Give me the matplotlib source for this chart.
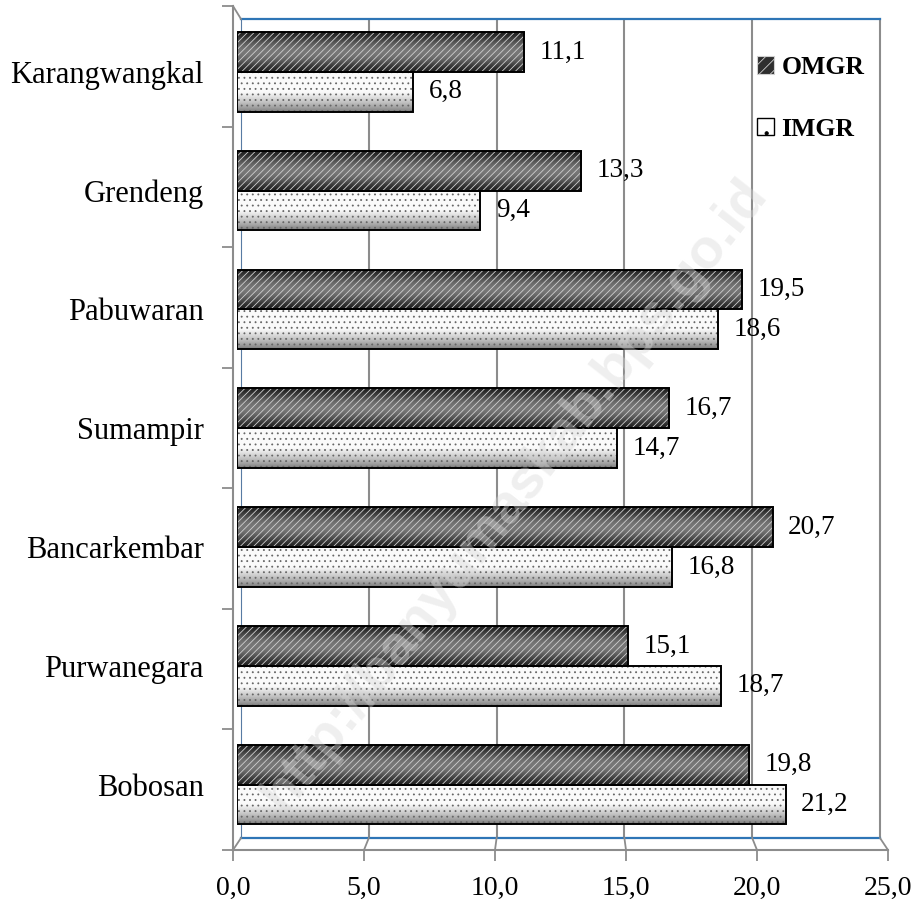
import matplotlib
matplotlib.use('Agg')
import matplotlib.pyplot as plt
from matplotlib.patches import Patch
from matplotlib.lines import Line2D
import numpy as np

# data (bottom -> top)
categories = ['Bobosan', 'Purwanegara', 'Bancarkembar', 'Sumampir',
              'Pabuwaran', 'Grendeng', 'Karangwangkal']
omgr = [19.8, 15.1, 20.7, 16.7, 19.5, 13.3, 11.1]
imgr = [21.2, 18.7, 16.8, 14.7, 18.6, 9.4, 6.8]
xticks = [0, 5, 10, 15, 20, 25]

W, H = 922, 901
plt.rcParams['font.family'] = ['Liberation Serif', 'DejaVu Serif']
plt.rcParams['hatch.linewidth'] = 0.6
GRAY = '#8c8c8c'
BLUE = '#2e75b6'


def px_box(l, t, r, b):
    return [l / W, 1 - b / H, (r - l) / W, (b - t) / H]


fig = plt.figure(figsize=(W / 100, H / 100), dpi=100)

# back wall of the 3d chart
wall = fig.add_axes(px_box(241, 19, 880, 838), zorder=0)
wall.set_xlim(0, 25)
wall.set_ylim(0, 1)
wall.set_xticks(xticks[1:-1])
wall.set_yticks([])
wall.tick_params(length=0, labelbottom=False)
wall.grid(axis='x', color=GRAY, lw=1.5)
wall.spines['top'].set_color(BLUE)
wall.spines['bottom'].set_color(BLUE)
wall.spines['top'].set_linewidth(1.6)
wall.spines['bottom'].set_linewidth(1.6)
wall.spines['left'].set_color('#587ba3')
wall.spines['right'].set_color(GRAY)
wall.spines['right'].set_linewidth(1.5)

# front axes (ticks and axis lines)
front = fig.add_axes(px_box(233, 6, 888, 850), zorder=1)
front.patch.set_alpha(0)
front.set_xlim(0, 25)
front.set_ylim(-0.5, len(categories) - 0.5)
front.set_xticks(xticks)
front.set_xticklabels([f'{v:.1f}'.replace('.', ',') for v in xticks], fontsize=20)
front.set_yticks(np.arange(len(categories) + 1) - 0.5)
front.set_yticklabels([])
front.tick_params(axis='both', length=8, width=1.3, color=GRAY)
front.tick_params(axis='x', pad=11)
for s in ['top', 'right']:
    front.spines[s].set_visible(False)
for s in ['left', 'bottom']:
    front.spines[s].set_color(GRAY)
    front.spines[s].set_linewidth(1.5)

# bars sit between front and back
ax = fig.add_axes(px_box(237, 12.5, 884, 844), zorder=2)
ax.patch.set_alpha(0)
for s in ax.spines.values():
    s.set_visible(False)

y = np.arange(len(categories))
h = 0.335

b_om = ax.barh(y + h / 2, omgr, height=h, color='#333333', lw=0)
b_im = ax.barh(y - h / 2, imgr, height=h, color='#eeeeee', lw=0)

# cylinder-like shading
t = np.linspace(0, 1, 60)
om_grad = 0.13 + 0.34 * np.sin(np.pi * t) ** 1.5
im_grad = np.where(t > 0.5, 0.98, 0.48 + 0.50 * (t / 0.5) ** 0.8)
for bars, grad in [(b_om, om_grad), (b_im, im_grad)]:
    for r in bars:
        x0, y0 = r.get_x(), r.get_y()
        im = ax.imshow(grad[:, None], extent=[x0, x0 + r.get_width(), y0, y0 + r.get_height()],
                       origin='lower', cmap='gray', vmin=0, vmax=1, aspect='auto',
                       interpolation='bilinear', zorder=2)
        im.set_clip_path(r)

ax.barh(y + h / 2, omgr, height=h, color='none', edgecolor='#cfcfcf', hatch='/////', lw=0, zorder=3)
ax.barh(y - h / 2, imgr, height=h, color='none', edgecolor='#666666', hatch='...', lw=0, zorder=3)
ax.barh(y + h / 2, omgr, height=h, fill=False, edgecolor='black', lw=1.4, zorder=4)
ax.barh(y - h / 2, imgr, height=h, fill=False, edgecolor='black', lw=1.4, zorder=4)

for yi, v in zip(y, omgr):
    ax.text(v + 0.6, yi + h / 2, f'{v:.1f}'.replace('.', ','), va='center', fontsize=19.5)
for yi, v in zip(y, imgr):
    ax.text(v + 0.6, yi - h / 2, f'{v:.1f}'.replace('.', ','), va='center', fontsize=19.5)

ax.set_xlim(0, 25)
ax.set_ylim(-0.5, len(categories) - 0.5)
ax.set_xticks([])
ax.set_yticks(y)
ax.set_yticklabels(categories, fontsize=22)
ax.tick_params(axis='y', length=0, pad=24)

# depth connectors from front axis to back wall
inv = fig.transFigure.inverted()
y_lo, y_hi = front.get_ylim()
for v in xticks:
    p1 = inv.transform(front.transData.transform((v, y_lo)))
    p2 = inv.transform(wall.transData.transform((v, 0)))
    fig.add_artist(Line2D([p1[0], p2[0]], [p1[1], p2[1]], color=GRAY, lw=1.3))
p1 = inv.transform(front.transData.transform((0, y_hi)))
p2 = inv.transform(wall.transData.transform((0, 1)))
fig.add_artist(Line2D([p1[0], p2[0]], [p1[1], p2[1]], color=GRAY, lw=1.3))

# legend
handles = [Patch(facecolor='#2e2e2e', edgecolor='#d0d0d0', hatch='///', lw=0.8),
           Patch(facecolor='white', edgecolor='black', hatch='.', lw=1.0)]
fig.legend(handles, ['OMGR', 'IMGR'], loc='upper left',
           bbox_to_anchor=(757 / W, 1 - 56 / H), frameon=False,
           prop={'weight': 'bold', 'size': 18.5}, handlelength=0.65, handleheight=0.65,
           handletextpad=0.3, labelspacing=1.5, borderaxespad=0, borderpad=0)

# watermark
fig.text(515 / W, 1 - 495 / H, 'http://banyumaskab.bps.go.id', rotation=52,
         rotation_mode='anchor', ha='center', va='center', fontsize=40,
         weight='bold', family='Liberation Sans', color='#d8d8d8', alpha=0.4, zorder=10)

fig.savefig('out.png', dpi=100)
